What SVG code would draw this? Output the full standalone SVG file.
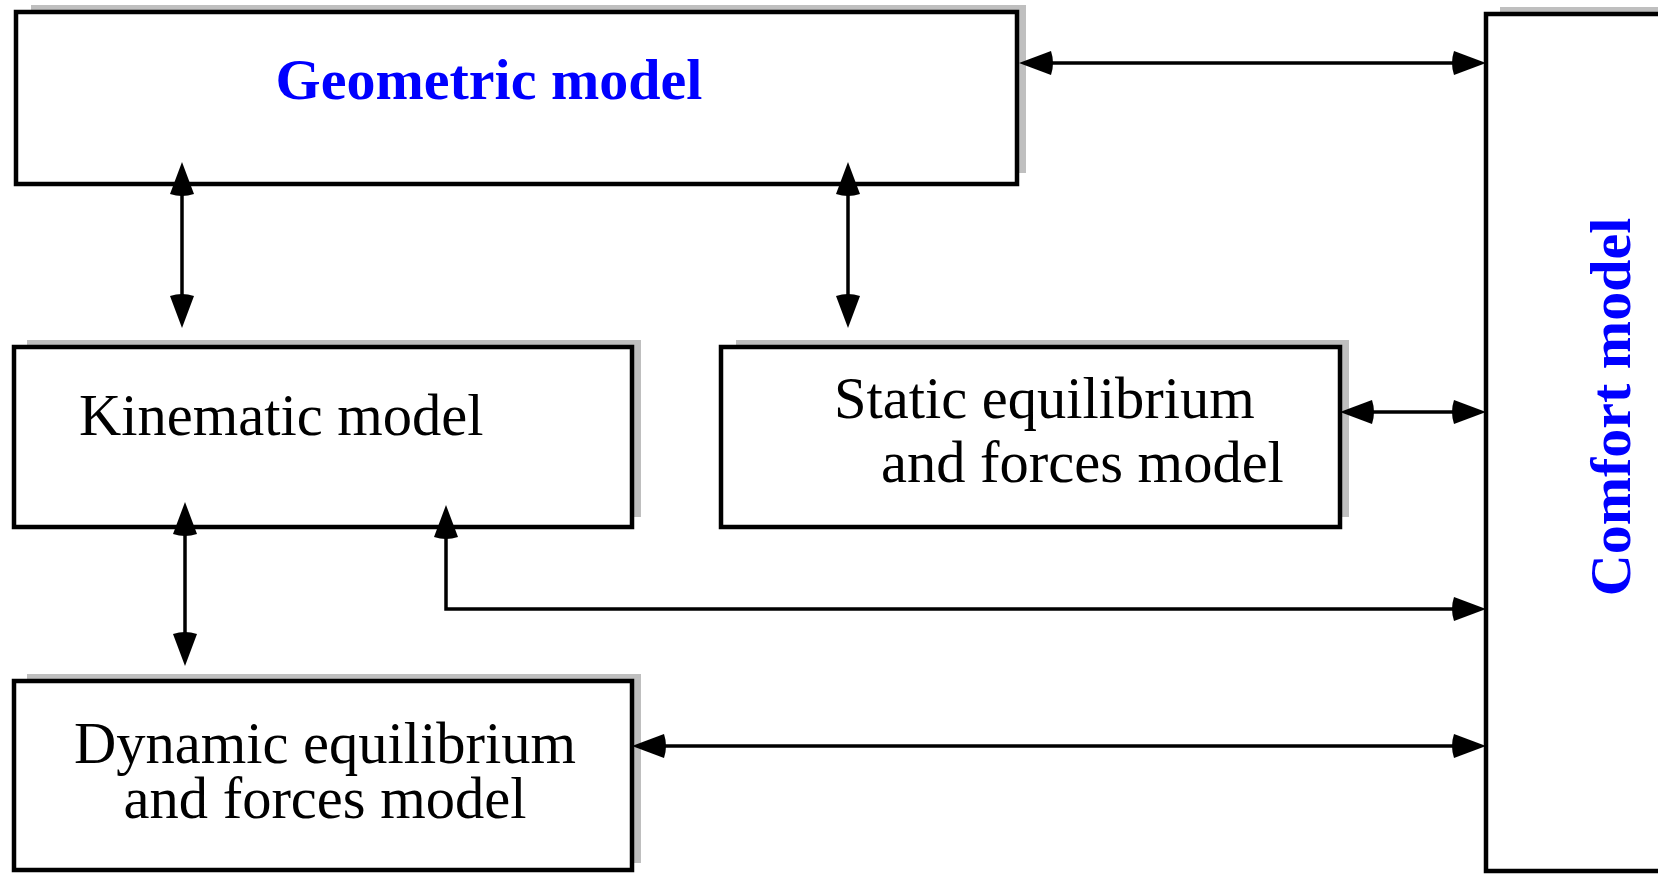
<svg xmlns="http://www.w3.org/2000/svg" width="1658" height="874" viewBox="0 0 1658 874">
<style>
.shadow{fill:#bfbfbf;stroke:none}
.box{fill:#ffffff;stroke:#000000;stroke-width:4.5}
.lbl{font-family:"Liberation Serif","Times New Roman",serif;font-size:58.5px;fill:#000000}
.title{font-family:"Liberation Serif","Times New Roman",serif;font-size:58px;font-weight:bold;fill:#0000ff}
.conn{fill:none;stroke:#000000;stroke-width:3.5}
</style>
<defs>
<marker id="ah" viewBox="-4 0 36 24" refX="24" refY="12" markerWidth="36" markerHeight="24" markerUnits="userSpaceOnUse" orient="auto-start-reverse">
<path d="M0,0 L32,12 L0,24 Q-4,12 0,0 Z" fill="#000000"/>
</marker>
</defs>
<rect x="0" y="0" width="1658" height="874" fill="#ffffff"/>
<g id="geometric">
<rect class="shadow" x="31" y="5" width="995" height="168"/>
<rect class="box" x="16" y="12" width="1001" height="172"/>
<text class="title" x="489" y="99" text-anchor="middle">Geometric model</text>
</g>
<g id="kinematic">
<rect class="shadow" x="27" y="340" width="614" height="177"/>
<rect class="box" x="14" y="347" width="618" height="180"/>
<text class="lbl" x="79" y="435">Kinematic model</text>
</g>
<g id="static">
<rect class="shadow" x="736" y="340" width="613" height="177"/>
<rect class="box" x="721" y="347" width="619" height="180"/>
<text class="lbl" x="834" y="418">Static equilibrium</text>
<text class="lbl" x="881" y="482">and forces model</text>
</g>
<g id="dynamic">
<rect class="shadow" x="27" y="674" width="614" height="189"/>
<rect class="box" x="14" y="681" width="618" height="189"/>
<text class="lbl" x="325" y="763" text-anchor="middle">Dynamic equilibrium</text>
<text class="lbl" x="325" y="818" text-anchor="middle">and forces model</text>
</g>
<g id="comfort">
<rect class="shadow" x="1500" y="7" width="200" height="850"/>
<rect class="box" x="1486" y="14" width="200" height="857"/>
<text class="title" transform="translate(1630,407) rotate(-90)" x="0" y="0" text-anchor="middle">Comfort model</text>
</g>
<g id="connectors">
<path class="conn" d="M1027,63 L1478,63" marker-start="url(#ah)" marker-end="url(#ah)"/>
<path class="conn" d="M182,170 L182,320" marker-start="url(#ah)" marker-end="url(#ah)"/>
<path class="conn" d="M848,170 L848,320" marker-start="url(#ah)" marker-end="url(#ah)"/>
<path class="conn" d="M1348,412 L1478,412" marker-start="url(#ah)" marker-end="url(#ah)"/>
<path class="conn" d="M185,510 L185,658" marker-start="url(#ah)" marker-end="url(#ah)"/>
<path class="conn" d="M446,513 L446,609 L1478,609" marker-start="url(#ah)" marker-end="url(#ah)"/>
<path class="conn" d="M640,746 L1478,746" marker-start="url(#ah)" marker-end="url(#ah)"/>
</g>
</svg>
